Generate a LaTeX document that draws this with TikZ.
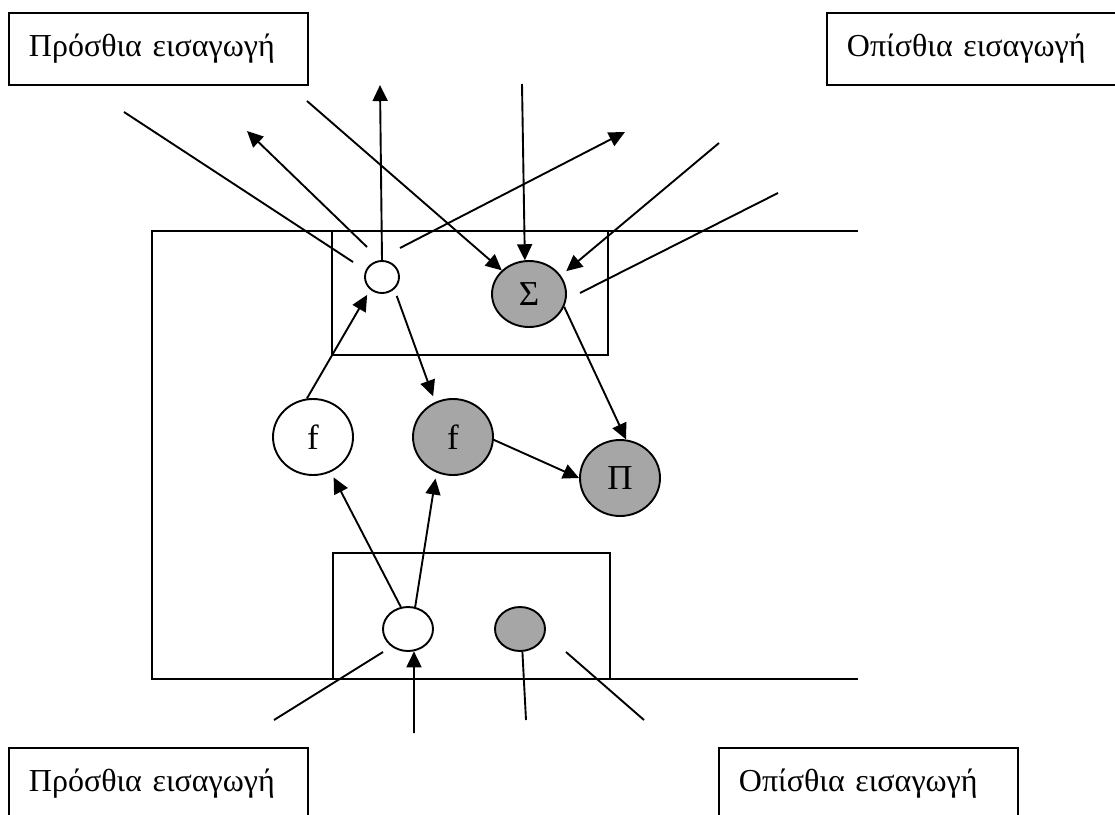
\documentclass[tikz,border=0pt]{standalone}
\usepackage{fontspec}
\setmainfont{Liberation Serif}
\usetikzlibrary{arrows.meta,shapes.geometric}
\definecolor{nodegray}{RGB}{166,166,166}
\tikzset{
  every picture/.style={line width=1.9pt},
  lbl/.style={draw, rectangle, anchor=north west, minimum height=72pt,
    inner xsep=20pt, inner ysep=0pt, align=left,
    font=\fontsize{32}{38}\selectfont},
  blob/.style={draw, ellipse, inner sep=0pt, font=\fontsize{35}{40}\selectfont},
  white/.style={blob, fill=white},
  shaded/.style={blob, fill=nodegray},
  arr/.style={-{Triangle[length=16pt,width=15pt]}},
  plain/.style={-}
}
\begin{document}
\begin{tikzpicture}[x=1pt,y=-1pt]
\useasboundingbox (0,0) rectangle (1115,814);
\clip (0,0) rectangle (1115,814);

% input labels
\node[lbl, text width=259pt] (fin1) at (8,12) {\mbox{Πρόσθια εισαγωγή}};
\node[lbl, text width=300pt] (bin1) at (826,12) {\mbox{Οπίσθια εισαγωγή}};
\node[lbl, text width=259pt] (fin2) at (8,747) {\mbox{Πρόσθια εισαγωγή}};
\node[lbl, text width=259pt] (bin2) at (718,747) {\mbox{Οπίσθια εισαγωγή}};

% outer frame, open on the right, and the two inner boxes
\draw (858,231) -- (152,231) -- (152,679) -- (858,679);
\draw (332,231) rectangle (608,355);
\draw (333,553) rectangle (610,679);

% nodes
\node[white, minimum width=34pt, minimum height=32pt] (u) at (382,277) {};
\node[shaded, minimum width=74pt, minimum height=66pt] (sig) at (529,294) {Σ};
\node[white, minimum width=80pt, minimum height=76pt] (fw) at (313,437) {f};
\node[shaded, minimum width=80pt, minimum height=76pt] (fg) at (453,437) {f};
\node[shaded, minimum width=80pt, minimum height=76pt] (pi) at (620,478) {Π};
\node[white, minimum width=50pt, minimum height=44pt] (lw) at (408,629) {};
\node[shaded, minimum width=50pt, minimum height=44pt] (lg) at (520,629) {};

% free ends of the connectors
\coordinate (a1s) at (124,112);
\coordinate (a1e) at (353,262);
\coordinate (a2s) at (367,247);
\coordinate (a2e) at (247,131);
\coordinate (a3e) at (380,85);
\coordinate (a4s) at (307,101);
\coordinate (a5s) at (400,248);
\coordinate (a5e) at (625,132);
\coordinate (a6s) at (522,84);
\coordinate (a7s) at (719,143);
\coordinate (a8s) at (778,193);
\coordinate (a8e) at (580,293);
\coordinate (b1s) at (274,720);
\coordinate (b1e) at (383,652);
\coordinate (b2s) at (414,733);
\coordinate (b3e) at (526,720);
\coordinate (b4s) at (566,652);
\coordinate (b4e) at (644,720);

% upper connectors
\draw[plain] (a1s) -- (a1e);
\draw[arr] (a2s) -- (a2e);
\draw[arr] (u.north) -- (a3e);
\draw[arr] (a4s) -- (sig);
\draw[arr] (a5s) -- (a5e);
\draw[arr] (a6s) -- (sig.97);
\draw[arr, shorten >=7pt] (a7s) -- (sig.30);
\draw[plain] (a8s) -- (a8e);

% middle connectors
\draw[arr, shorten >=6pt] (fw.99) -- (u.227);
\draw[arr, shorten <=7pt, shorten >=6pt] (u.-45) -- (fg.117);
\draw[arr] (sig.-20) -- (pi.81);
\draw[arr] (fg.-4) -- (pi.west);

% lower connectors
\draw[arr, shorten >=6pt] (lw.108) -- (fw.-63);
\draw[arr, shorten >=6pt] (lw.72) -- (fg.-115);
\draw[plain] (b1s) -- (b1e);
\draw[arr] (b2s) -- (lw.-75);
\draw[plain] (lg.-84) -- (b3e);
\draw[plain] (b4s) -- (b4e);
\end{tikzpicture}
\end{document}
